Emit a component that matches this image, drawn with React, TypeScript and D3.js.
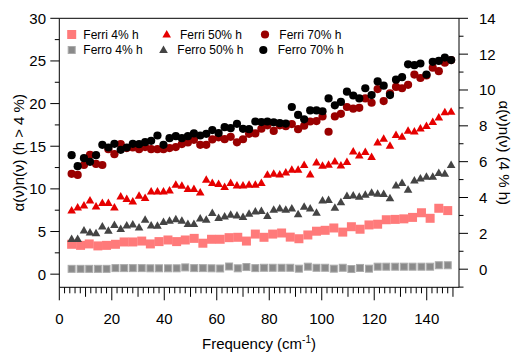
import React from "react";
import * as d3 from "d3";

// Frequencies (cm^-1) of the 50 % h and 70 % h measurements
const freqFine = [
  4.7, 7.0, 9.4, 11.7, 14.0, 16.4, 18.7, 21.0, 23.4, 25.7, 28.0, 30.4, 32.7, 35.0, 37.4, 39.7,
  42.0, 44.4, 46.7, 49.0, 51.3, 53.7, 56.0, 58.3, 60.7, 63.0, 65.3, 67.7, 70.0, 72.3, 74.7, 77.0,
  79.3, 81.7, 84.0, 86.3, 88.6, 91.0, 93.3, 95.6, 98.0, 100.3, 102.6, 105.0, 107.3, 109.6, 112.0,
  114.3, 116.6, 119.0, 121.3, 123.6, 126.0, 128.3, 130.6, 132.9, 135.3, 137.6, 139.9, 142.3,
  144.6, 146.9, 149.3,
];

// Frequencies (cm^-1) of the 4 % h measurements
const freqCoarse = [
  4.7, 8.1, 11.4, 14.7, 18.0, 21.4, 24.7, 28.0, 31.4, 34.7, 38.0, 41.4, 44.7, 48.0, 51.4, 54.7,
  58.0, 61.3, 64.7, 68.0, 71.3, 74.7, 78.0, 81.3, 84.7, 88.0, 91.3, 94.7, 98.0, 101.3, 104.6,
  108.0, 111.3, 114.6, 118.0, 121.3, 124.6, 128.0, 131.3, 134.6, 138.0, 141.3, 144.6, 148.0,
];

// Left axis (h > 4 %)
const ferri70 = [
  11.76, 11.64, 12.8, 14.0, 12.93, 12.8, 14.66, 14.07, 15.25, 14.78, 14.85, 14.66, 14.9, 14.66,
  14.66, 14.66, 14.78, 14.9, 15.25, 15.44, 15.75, 15.16, 15.16, 15.8, 16.05, 15.83, 16.1, 15.46,
  15.82, 16.45, 16.5, 17.05, 17.45, 16.8, 17.45, 17.35, 17.6, 17.0, 17.4, 17.9, 17.95, 18.5, 16.7,
  18.5, 18.8, 19.6, 19.4, 19.5, 20.6, 20.1, 21.7, 20.3, 21.2, 21.95, 21.8, 22.2, 23.4, 23.0, 23.3,
  24.2, 23.8, 24.8, 25.1,
];
const ferro70 = [
  13.95, 12.66, 13.6, 13.17, 13.95, 15.16, 14.85, 15.28, 14.58, 14.85, 15.28, 15.24, 15.48, 15.63,
  16.26, 15.16, 15.95, 16.18, 15.95, 16.18, 16.5, 16.26, 16.46, 16.9, 16.54, 17.24, 17.12, 17.63,
  17.04, 17.0, 17.9, 17.83, 17.9, 17.8, 17.7, 17.66, 19.6, 18.67, 18.16, 19.2, 19.2, 19.1, 20.6,
  19.8, 20.2, 21.4, 20.95, 20.6, 21.8, 21.0, 22.6, 22.1, 21.0, 22.8, 23.1, 24.6, 24.5, 24.7, 23.4,
  24.9, 25.0, 25.4, 25.1,
];
const ferri50 = [
  7.45, 7.8, 8.04, 8.63, 7.92, 8.32, 8.32, 7.8, 9.1, 8.79, 8.51, 9.18, 8.91, 9.68, 9.68, 9.68, 9.8,
  10.47, 10.35, 9.96, 9.96, 9.57, 11.06, 10.67, 10.55, 10.2, 10.67, 10.39, 10.39, 10.47, 10.47,
  10.67, 11.64, 11.76, 11.68, 11.91, 12.23, 12.23, 12.78, 11.68, 13.09, 12.7, 12.82, 13.2, 12.74,
  13.13, 14.38, 13.91, 14.3, 13.72, 15.43, 15.87, 15.05, 16.3, 16.1, 16.8, 16.73, 17.08, 17.36,
  17.83, 18.37, 18.96, 19.04,
];
const ferro50 = [
  4.1, 4.1, 5.1, 4.87, 4.8, 5.58, 5.07, 5.74, 5.27, 5.7, 5.81, 5.46, 6.36, 5.7, 5.66, 6.09, 6.24,
  6.44, 6.24, 5.86, 5.86, 6.51, 6.36, 7.15, 6.56, 6.75, 6.95, 6.87, 6.68, 7.07, 7.34, 7.38, 6.8,
  7.54, 7.7, 7.54, 7.7, 7.0, 7.9, 7.7, 7.2, 8.63, 8.67, 7.77, 8.42, 9.14, 9.22, 9.06, 9.3, 9.53,
  9.42, 9.4, 8.9, 10.37, 10.67, 9.88, 10.96, 11.2, 11.4, 11.4, 11.85, 11.75, 12.78,
];

// Right axis (4 % h)
const ferri4 = [
  1.39, 1.33, 1.41, 1.3, 1.33, 1.39, 1.52, 1.52, 1.57, 1.41, 1.54, 1.63, 1.54, 1.63, 1.72, 1.45,
  1.67, 1.67, 1.76, 1.78, 1.57, 1.96, 1.78, 1.96, 2.02, 1.79, 1.7, 1.91, 2.12, 2.17, 2.3, 2.07,
  2.37, 2.23, 2.47, 2.51, 2.76, 2.78, 2.81, 2.89, 3.15, 2.84, 3.4, 3.27,
];
const ferro4 = [
  0.02, 0.02, 0.02, 0.02, 0.02, 0.06, 0.06, 0.06, 0.06, 0.05, 0.05, 0.05, 0.05, 0.1, 0.06, 0.06,
  0.05, 0.04, 0.15, 0.05, 0.12, 0.06, 0.08, 0.08, 0.08, 0.08, 0.03, 0.14, 0.08, 0.08, 0.03, 0.08,
  0.01, 0.07, 0.03, 0.14, 0.14, 0.14, 0.14, 0.14, 0.14, 0.14, 0.22, 0.22,
];

const leftTicks = [0, 5, 10, 15, 20, 25, 30];
const rightTicks = [0, 2, 4, 6, 8, 10, 12, 14];
const bottomTicks = [0, 20, 40, 60, 80, 100, 120, 140];

const COLORS = {
  ferri4: "#ff7a7a",
  ferro4: "#8a8a8a",
  ferro4Edge: "#aaaaaa",
  ferri50: "#e60000",
  ferro50: "#444444",
  ferri70: "#990000",
  ferro70: "#000000",
};

const FONT = "'Liberation Sans', Arial, Helvetica, sans-serif";

const W = 513;
const H = 353;
const L = 59.3;
const R = 459;
const T = 18.3;
const B = 287.3;

const x = d3.scaleLinear().domain([0, 152.3]).range([L, R]);
const yL = d3.scaleLinear().domain([-1.54, 30]).range([B, T]);
const yR = d3.scaleLinear().domain([-1.01, 14]).range([B, T]);

type Shape = "square" | "bigsquare" | "triangle" | "circle";

function Marker({ shape, cx, cy, fill, stroke }: { shape: Shape; cx: number; cy: number; fill: string; stroke?: string }) {
  if (shape === "circle") return <circle cx={cx} cy={cy} r={4.1} fill={fill} />;
  if (shape === "triangle") {
    const p = d3.path();
    p.moveTo(cx, cy - 4.6);
    p.lineTo(cx + 4.3, cy + 2.9);
    p.lineTo(cx - 4.3, cy + 2.9);
    p.closePath();
    return <path d={p.toString()} fill={fill} />;
  }
  if (shape === "bigsquare") return <rect x={cx - 4.5} y={cy - 4.5} width={9} height={9} fill={fill} />;
  return <rect x={cx - 3.5} y={cy - 3.5} width={7} height={7} fill={fill} stroke={stroke} strokeWidth={1} />;
}

function Series({ xs, ys, scale, shape, fill, stroke }: { xs: number[]; ys: number[]; scale: d3.ScaleLinear<number, number>; shape: Shape; fill: string; stroke?: string }) {
  return (
    <g>
      {ys.map((v, i) => (
        <Marker key={i} shape={shape} cx={x(xs[i])} cy={scale(v)} fill={fill} stroke={stroke} />
      ))}
    </g>
  );
}

const legendRows = [
  [
    { label: "Ferri 4% h", shape: "bigsquare" as Shape, fill: COLORS.ferri4, mx: 71.7, tx: 83.3 },
    { label: "Ferri 50% h", shape: "triangle" as Shape, fill: COLORS.ferri50, mx: 166.7, tx: 180 },
    { label: "Ferri 70% h", shape: "circle" as Shape, fill: COLORS.ferri70, mx: 265, tx: 279.3 },
  ],
  [
    { label: "Ferro 4% h", shape: "square" as Shape, fill: COLORS.ferro4, stroke: COLORS.ferro4Edge, mx: 71.7, tx: 83.3 },
    { label: "Ferro 50% h", shape: "triangle" as Shape, fill: COLORS.ferro50, mx: 163.5, tx: 177.3 },
    { label: "Ferro 70% h", shape: "circle" as Shape, fill: COLORS.ferro70, mx: 263.3, tx: 277.7 },
  ],
];
const legendY = [34.5, 50];

export default function App() {
  const minorX = d3.range(0, 152, 2);
  const minorL = d3.range(-0, 30.01, 2.5).filter((v) => v % 5 !== 0);
  const minorR = d3.range(-1, 14.01, 1).filter((v) => v % 2 !== 0);

  return (
    <svg
      width={W}
      height={H}
      style={{ position: "fixed", left: 0, top: 0, background: "#fff" }}
      fontFamily={FONT}
    >
      <rect width={W} height={H} fill="#fff" />

      {/* frame and axes */}
      <g stroke="#000" strokeWidth={1} fill="none">
        <line x1={L} x2={R} y1={T} y2={T} />
        <line x1={L} x2={R} y1={B} y2={B} />
        <line x1={L} x2={L} y1={T} y2={B} />
        <line x1={R} x2={R} y1={T} y2={B} />

        {minorX.map((v) => {
          const len = v % 20 === 0 ? 13 : v % 10 === 0 ? 9.5 : 6;
          return <line key={"bx" + v} x1={x(v)} x2={x(v)} y1={B} y2={B + len} />;
        })}
        {leftTicks.map((v) => (
          <line key={"lt" + v} x1={L - 9} x2={L} y1={yL(v)} y2={yL(v)} />
        ))}
        {minorL.map((v) => (
          <line key={"lm" + v} x1={L - 4.5} x2={L} y1={yL(v)} y2={yL(v)} />
        ))}
        {rightTicks.map((v) => (
          <line key={"rt" + v} x1={R} x2={R + 9} y1={yR(v)} y2={yR(v)} />
        ))}
        {minorR.map((v) => (
          <line key={"rm" + v} x1={R} x2={R + 4.5} y1={yR(v)} y2={yR(v)} />
        ))}
      </g>

      {/* tick labels */}
      <g fontSize={15} fill="#000">
        {leftTicks.map((v) => (
          <text key={"ll" + v} x={46} y={yL(v)} dy="0.36em" textAnchor="end">
            {v}
          </text>
        ))}
        {rightTicks.map((v) => (
          <text key={"rl" + v} x={479} y={yR(v)} dy="0.36em" textAnchor="start">
            {v}
          </text>
        ))}
        {bottomTicks.map((v) => (
          <text key={"bl" + v} x={x(v)} y={324} textAnchor="middle">
            {v}
          </text>
        ))}
      </g>

      {/* axis titles */}
      <text x={259} y={349} fontSize={15} textAnchor="middle" fill="#000">
        Frequency (cm<tspan dy={-6} fontSize={10}>-1</tspan>
        <tspan dy={6}>)</tspan>
      </text>
      <text
        transform={`translate(24,${(T + B) / 2}) rotate(-90)`}
        fontSize={15}
        textAnchor="middle"
        fill="#000"
      >
        α(ν)n(ν) (h &gt; 4 %)
      </text>
      <text
        transform={`translate(499,${(T + B) / 2}) rotate(90)`}
        fontSize={15}
        textAnchor="middle"
        fill="#000"
      >
        α(ν)n(ν) (4 % h)
      </text>

      {/* data */}
      <Series xs={freqCoarse} ys={ferro4} scale={yR} shape="square" fill={COLORS.ferro4} stroke={COLORS.ferro4Edge} />
      <Series xs={freqCoarse} ys={ferri4} scale={yR} shape="bigsquare" fill={COLORS.ferri4} />
      <Series xs={freqFine} ys={ferro50} scale={yL} shape="triangle" fill={COLORS.ferro50} />
      <Series xs={freqFine} ys={ferri50} scale={yL} shape="triangle" fill={COLORS.ferri50} />
      <Series xs={freqFine} ys={ferri70} scale={yL} shape="circle" fill={COLORS.ferri70} />
      <Series xs={freqFine} ys={ferro70} scale={yL} shape="circle" fill={COLORS.ferro70} />

      {/* legend */}
      <g fontSize={12} fill="#000">
        {legendRows.map((row, r) =>
          row.map((item) => (
            <g key={item.label}>
              <Marker shape={item.shape} cx={item.mx} cy={legendY[r]} fill={item.fill} stroke={(item as any).stroke} />
              <text x={item.tx} y={legendY[r]} dy="0.36em">
                {item.label}
              </text>
            </g>
          ))
        )}
      </g>
    </svg>
  );
}
